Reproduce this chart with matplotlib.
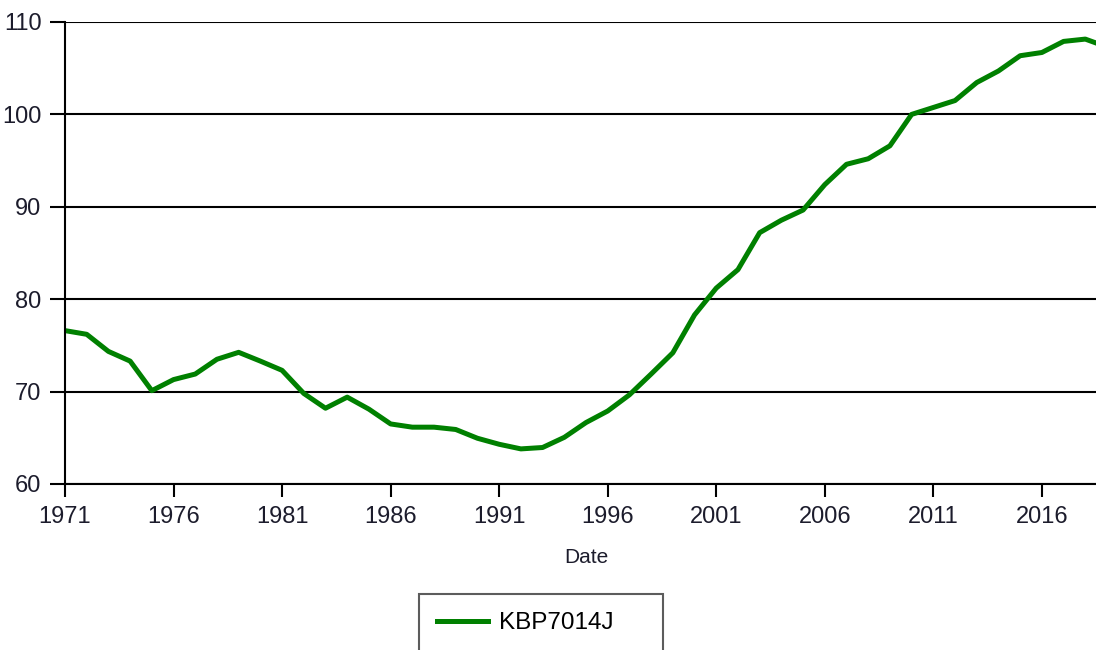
import matplotlib.pyplot as plt
import numpy as np

plt.rcParams['font.family'] = ['Liberation Sans', 'DejaVu Sans']

years = np.arange(1971, 2020)
values = [76.6, 76.2, 74.35, 73.3, 70.1, 71.3, 71.9, 73.5, 74.25, 73.3,
          72.3, 69.8, 68.2, 69.4, 68.1, 66.5, 66.15, 66.15, 65.9, 64.95,
          64.3, 63.8, 63.95, 65.05, 66.65, 67.9, 69.65, 71.9, 74.2, 78.3,
          81.2, 83.2, 87.2, 88.55, 89.65, 92.4, 94.6, 95.2, 96.6, 100.0,
          100.75, 101.5, 103.45, 104.7, 106.35, 106.7, 107.9, 108.15, 107.3]
series_name = 'KBP7014J'
xticks = [1971, 1976, 1981, 1986, 1991, 1996, 2001, 2006, 2011, 2016]
yticks = [60, 70, 80, 90, 100, 110]

W, H = 1096, 650
fig = plt.figure(figsize=(W / 100, H / 100), dpi=100)
ax = fig.add_axes([65 / W, 166 / H, 1042 / W, 462 / H])

line, = ax.plot(years, values, color='#008000', lw=3.6, label=series_name,
                solid_joinstyle='round')

ax.set_xlim(1971, 2019)
ax.set_ylim(60, 110)
ax.set_xticks(xticks)
ax.set_yticks(yticks)
ax.grid(axis='y', color='black', lw=1.5)
ax.set_axisbelow(True)

for s in ['top', 'right']:
    ax.spines[s].set_visible(False)
for s in ['left', 'bottom']:
    ax.spines[s].set_linewidth(1.5)

ax.tick_params(axis='y', length=11, width=1.5, pad=6, labelsize=17, labelcolor='#1c1c2c')
ax.tick_params(axis='x', length=9, width=1.5, pad=7, labelsize=17, labelcolor='#1c1c2c')

ax.set_xlabel('Date', fontsize=15, color='#1c1c2c', labelpad=14)

# legend box: fixed width, hanging off the bottom edge like the original
leg_h = 62 / H
leg = fig.legend(handles=[line], loc='upper left', mode='expand',
                 bbox_to_anchor=(419 / W, 1 - 594 / H - leg_h, 244 / W, leg_h),
                 fontsize=17.5, handlelength=2.1, handletextpad=0.45,
                 borderpad=0.75, borderaxespad=0, fancybox=False, frameon=True)
leg.get_frame().set_edgecolor('#333333')
leg.get_frame().set_linewidth(1.5)

fig.savefig('out.png', dpi=100)
